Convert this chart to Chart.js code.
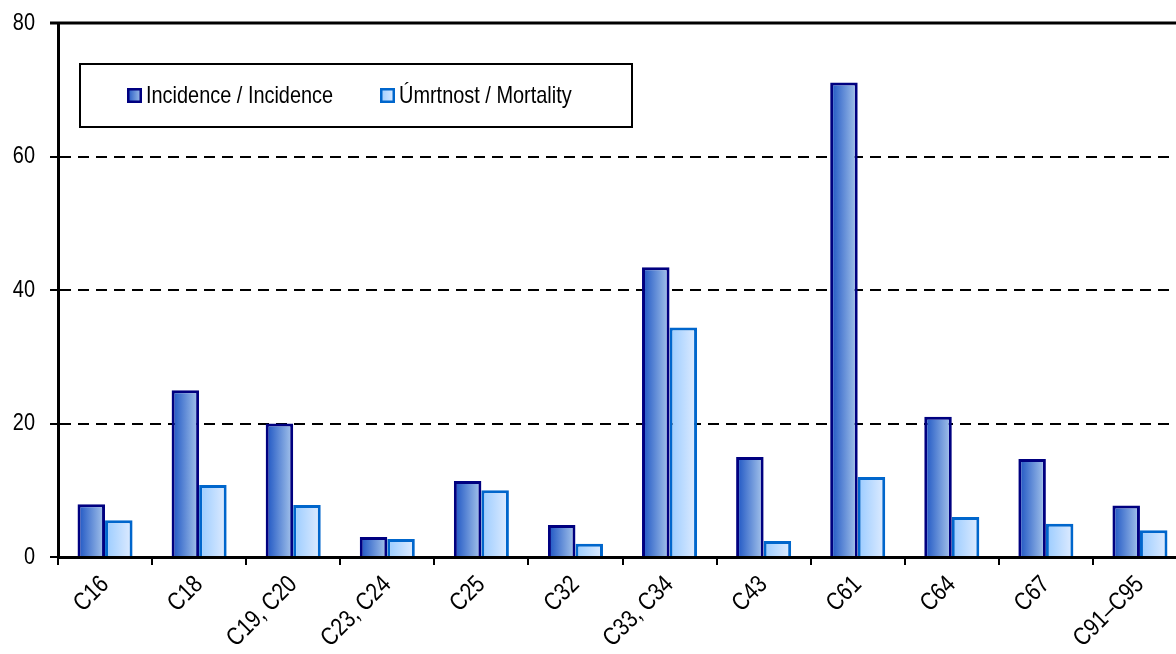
<!DOCTYPE html>
<html>
<head>
<meta charset="utf-8">
<script src="https://cdn.jsdelivr.net/npm/chart.js@4/dist/chart.umd.min.js"></script>
<style>
  html, body { margin: 0; padding: 0; background: #fff; overflow: hidden; width: 1176px; height: 654px; }
  #wrap { width: 1190px; height: 654px; }
</style>
</head>
<body>
<div id="wrap"><canvas id="c" width="1190" height="654"></canvas></div>
<script>
const categories = ['C16', 'C18', 'C19, C20', 'C23, C24', 'C25', 'C32', 'C33, C34', 'C43', 'C61', 'C64', 'C67', 'C91–C95'];
const incidence = [7.9, 25.0, 20.0, 3.0, 11.4, 4.8, 43.4, 15.0, 71.1, 21.0, 14.7, 7.7];
const mortality = [5.5, 10.8, 7.8, 2.7, 10.0, 2.0, 34.4, 2.4, 12.0, 6.0, 5.0, 4.0];
const seriesLabels = ['Incidence / Incidence', 'Úmrtnost / Mortality'];
const yTicks = [0, 20, 40, 60, 80];

const FONT = '"Liberation Sans", Arial, sans-serif';
const NARROW = 0.83; // emulate a narrow sans face by horizontal compression
const CAT_PCT = 0.585;

const styles = [
  { border: '#000080', c0: '#1a52c2', c1: '#a9c7ec' },
  { border: '#0066cc', c0: '#99cbff', c1: '#e0ecff' }
];

const canvas = document.getElementById('c');
const c2d = canvas.getContext('2d');
const origFillText = c2d.fillText.bind(c2d);
c2d.fillText = function (text, x, y, maxWidth) {
  const w = this.measureText(String(text)).width * NARROW;
  const mw = (maxWidth !== undefined && maxWidth !== null) ? Math.min(maxWidth, w) : w;
  return origFillText(text, x, y, mw);
};

function barGradient(ctx, dsIndex) {
  const chart = ctx.chart;
  const xs = chart.scales && chart.scales.x;
  if (!xs || ctx.dataIndex === undefined || ctx.dataIndex === null) return styles[dsIndex].c0;
  const center = xs.getPixelForValue(ctx.dataIndex);
  const catW = xs.width / categories.length;
  if (!isFinite(center) || !isFinite(catW) || catW <= 0) return styles[dsIndex].c0;
  const barW = catW * CAT_PCT / 2;
  const left = dsIndex === 0 ? center - barW : center;
  const g = chart.ctx.createLinearGradient(left, 0, left + barW, 0);
  g.addColorStop(0, styles[dsIndex].c0);
  g.addColorStop(1, styles[dsIndex].c1);
  return g;
}

const extras = {
  id: 'extras',
  afterDatasetsDraw(chart) {
    const { ctx, chartArea } = chart;
    ctx.save();
    ctx.strokeStyle = '#000';
    ctx.lineWidth = 3;
    ctx.beginPath();
    ctx.moveTo(chartArea.left - 8, chartArea.top);
    ctx.lineTo(chartArea.right + 10, chartArea.top);
    ctx.stroke();

    ctx.fillStyle = '#fff';
    ctx.fillRect(80, 64, 552, 63);
    ctx.lineWidth = 2;
    ctx.strokeStyle = '#000';
    ctx.strokeRect(80, 64, 552, 63);
    const items = [{ x: 127 }, { x: 380 }];
    chart.data.datasets.forEach((ds, i) => {
      const mx = items[i].x, my = 88, ms = 15;
      const g = ctx.createLinearGradient(mx, 0, mx + ms, 0);
      g.addColorStop(0, styles[i].c0);
      g.addColorStop(1, styles[i].c1);
      ctx.fillStyle = g;
      ctx.fillRect(mx, my, ms, ms);
      ctx.lineWidth = 2.5;
      ctx.strokeStyle = styles[i].border;
      ctx.strokeRect(mx + 1.25, my + 1.25, ms - 2.5, ms - 2.5);
      ctx.fillStyle = '#000';
      ctx.font = '24px ' + FONT;
      ctx.textBaseline = 'middle';
      ctx.textAlign = 'left';
      ctx.fillText(ds.label, mx + ms + 4, my + ms / 2 + 1);
    });
    ctx.restore();
  }
};

new Chart(canvas, {
  type: 'bar',
  data: {
    labels: categories,
    datasets: [
      {
        label: seriesLabels[0],
        data: incidence,
        backgroundColor: (ctx) => barGradient(ctx, 0),
        borderColor: styles[0].border,
        borderWidth: 3,
        categoryPercentage: CAT_PCT,
        barPercentage: 1
      },
      {
        label: seriesLabels[1],
        data: mortality,
        backgroundColor: (ctx) => barGradient(ctx, 1),
        borderColor: styles[1].border,
        borderWidth: 3,
        categoryPercentage: CAT_PCT,
        barPercentage: 1
      }
    ]
  },
  options: {
    responsive: false,
    animation: false,
    events: [],
    layout: { padding: { top: 23, right: 3, left: 0, bottom: 0 } },
    plugins: {
      legend: { display: false },
      tooltip: { enabled: false }
    },
    scales: {
      x: {
        grid: {
          offset: true,
          drawOnChartArea: false,
          drawTicks: true,
          tickLength: 8,
          tickWidth: 2,
          tickColor: '#000',
          color: '#000',
          lineWidth: 2
        },
        border: { display: true, color: '#000', width: 3 },
        ticks: {
          color: '#000',
          font: { family: FONT, size: 25 },
          minRotation: 45,
          maxRotation: 45,
          autoSkip: false,
          padding: 5
        },
        afterFit(scale) { scale.height = 97; scale.paddingLeft = 0; scale.paddingRight = 0; }
      },
      y: {
        min: 0,
        max: 80,
        afterBuildTicks(scale) { scale.ticks = yTicks.map(v => ({ value: v })); },
        grid: {
          color: (c) => (c.tick && (c.tick.value === 0 || c.tick.value === 80)) ? 'rgba(0,0,0,0)' : '#000',
          lineWidth: 2,
          tickLength: 8,
          tickWidth: 2,
          tickColor: '#000'
        },
        border: { display: true, color: '#000', width: 3, dash: [11, 7] },
        ticks: {
          color: '#000',
          font: { family: FONT, size: 24 },
          padding: 15
        },
        afterFit(scale) { scale.width = 58; scale.paddingTop = 0; scale.paddingBottom = 0; }
      }
    }
  },
  plugins: [extras]
});
</script>
</body>
</html>
